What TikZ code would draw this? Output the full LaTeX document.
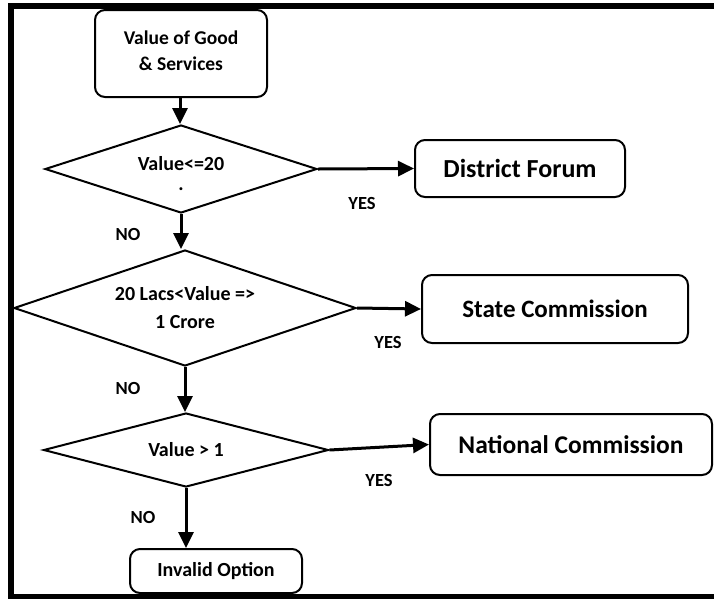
\documentclass[tikz,border=0pt]{standalone}
\usepackage{fontspec}
\setmainfont{Carlito}
\usetikzlibrary{shapes.geometric,arrows.meta}
\begin{document}
\begin{tikzpicture}[x=1pt,y=-1pt,
    line width=2pt,
    box/.style={draw,rectangle,rounded corners=10pt,align=center,inner sep=0pt},
    decision/.style={draw,diamond,aspect=3,inner sep=0pt,align=center,
      font=\bfseries\fontsize{20}{28}\selectfont},
    lbl/.style={font=\bfseries\fontsize{18.5}{20}\selectfont,inner sep=0pt}]
      \useasboundingbox (0,0) rectangle (714,598);
      \clip (0,0) rectangle (714,598);
      \fill[white] (-5,-5) rectangle (720,605);
      \draw[line width=6pt] (11,600) -- (11,6) -- (730,6);
      \draw[line width=6pt] (11,597) -- (730,597);
      \draw
        (181,53.5) node[box,minimum width=172pt,minimum height=87pt,
          font=\bfseries\fontsize{19.5}{26}\selectfont] (value){Value of Good\\\& Services\\[-20pt]\mbox{}}
        (181,169) node[decision,minimum width=272pt,minimum height=88pt] (dec1){\mbox{}\\[-5pt]Value<=20\\[-8pt].}
        (520,168.5) node[box,minimum width=210pt,minimum height=57pt,
          font=\bfseries\fontsize{26}{30}\selectfont] (district){District Forum}
        (185,308) node[decision,minimum width=342pt,minimum height=116pt] (dec2){20 Lacs<Value =>\\1 Crore}
        (555,309) node[box,minimum width=266pt,minimum height=68pt,
          font=\bfseries\fontsize{25}{30}\selectfont] (state){State Commission}
        (186,450) node[decision,minimum width=285pt,minimum height=74pt] (dec3){Value > 1}
        (571,444.5) node[box,minimum width=282pt,minimum height=61pt,
          font=\bfseries\fontsize{25.5}{30}\selectfont] (national){National Commission}
        (216,571) node[box,minimum width=172pt,minimum height=44pt,
          font=\bfseries\fontsize{20}{22}\selectfont] (invalid){Invalid Option};
      \draw
        (362,203) node[lbl] (yes1){YES}
        (388,342) node[lbl] (yes2){YES}
        (379,480) node[lbl] (yes3){YES}
        (128,234) node[lbl] (no1){NO}
        (128,388) node[lbl] (no2){NO}
        (143,517) node[lbl] (no3){NO};
      \begin{scope}[-{Triangle[length=16pt,width=15pt]},line width=3pt]
        \draw (value.south -| 180,0) to (dec1.north -| 180,0);
        \draw (dec1.south) to (dec1.south |- dec2.north);
        \draw (dec2.south) to (dec2.south |- dec3.north);
        \draw (dec3.south) to (dec3.south |- invalid.north);
        \draw (dec1.east) to (district.west);
        \draw (dec2.east) to (state.west);
        \draw (dec3.east) to (national.west);
      \end{scope}
    \end{tikzpicture}
\end{document}
